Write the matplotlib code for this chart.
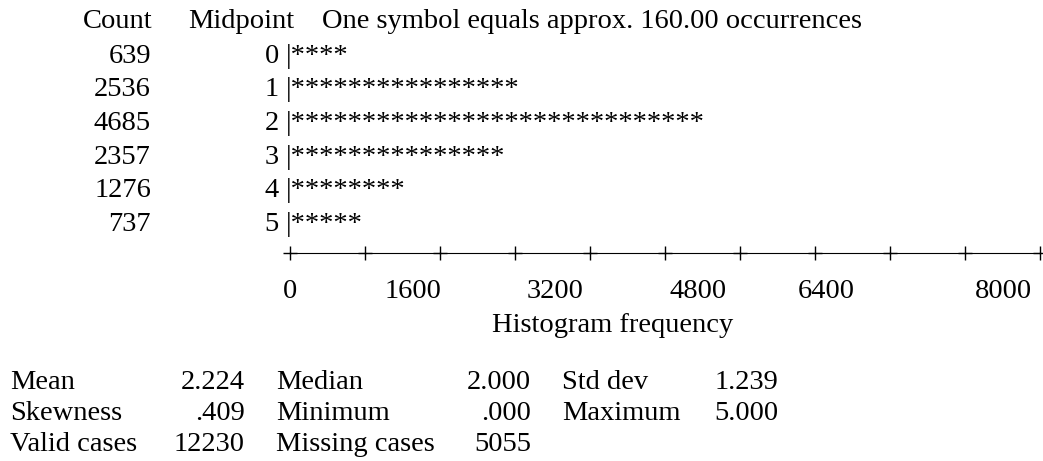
import matplotlib
matplotlib.use("Agg")
import matplotlib.pyplot as plt

# ---- data -------------------------------------------------------------
counts = [639, 2536, 4685, 2357, 1276, 737]
midpoints = [0, 1, 2, 3, 4, 5]
symbol_value = 160.0
axis_max = 8000
axis_step = 800
tick_labels = [0, 1600, 3200, 4800, 6400, 8000]
stat_names = [["Mean", "Median", "Std dev"],
              ["Skewness", "Minimum", "Maximum"],
              ["Valid cases", "Missing cases", ""]]
stat_values = [["2.224", "2.000", "1.239"],
               [".409", ".000", "5.000"],
               ["12230", "5055", ""]]

# ---- layout -----------------------------------------------------------
W, H = 1043, 461
FONT = "Liberation Serif"
FS = 20.5
X0 = 290            # pixel column of frequency 0
PX_PER_UNIT = 75 / 800
ROW0, ROW_H = 63, 33.5

fig = plt.figure(figsize=(W / 100, H / 100), dpi=100)
ax = fig.add_axes([0, 0, 1, 1])
ax.set_axis_off()
ax.set_xlim(-X0 / PX_PER_UNIT, (W - X0) / PX_PER_UNIT)
ax.set_ylim((H - ROW0) / ROW_H, -ROW0 / ROW_H)


def px(x):
    return (x - X0) / PX_PER_UNIT


def py(y):
    return (y - ROW0) / ROW_H


tk = dict(family=FONT, size=FS, color="black", va="baseline")

# header
ax.text(px(152), py(28), "Count", ha="right", **tk)
ax.text(px(188), py(28), "Midpoint", ha="left", **tk)
ax.text(px(322), py(28), "One symbol equals approx. %.2f occurrences" % symbol_value,
        ha="left", **tk)

# rows
for i, (c, m) in enumerate(zip(counts, midpoints)):
    n = int(round(c / symbol_value))
    ax.text(px(151), i, str(c), ha="right", **tk)
    ax.text(px(279), i, str(m), ha="right", **tk)
    ax.text(px(286), i, "|" + "*" * n, ha="left", **tk)

# axis line
yax = py(253)
ax.plot([0, axis_max], [yax, yax], color="black", lw=0.8, solid_capstyle="butt")
ticks = list(range(0, axis_max + 1, axis_step))
ax.plot(ticks, [yax] * len(ticks), ls="none", marker="+", ms=9.5, mew=1.0, color="black")

# tick labels (left edges as in the text output)
label_left_px = [283, 385, 527, 670, 798, 975]
for lab, lx in zip(tick_labels, label_left_px):
    ax.text(px(lx), py(298), str(lab), ha="left", **tk)
ax.text(px(492), py(332), "Histogram frequency", ha="left", **tk)

# statistics
name_left = [10, 276, 562]
value_right = [245, 531, 778]
stat_base = [389, 420, 451]
for r in range(3):
    for c in range(3):
        if stat_names[r][c]:
            ax.text(px(name_left[c]), py(stat_base[r]), stat_names[r][c], ha="left", **tk)
            ax.text(px(value_right[c]), py(stat_base[r]), stat_values[r][c], ha="right", **tk)

fig.savefig("out.png", dpi=100)
